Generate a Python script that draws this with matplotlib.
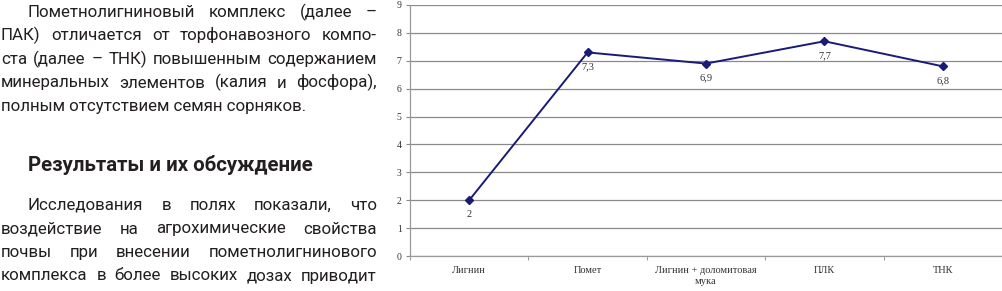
import numpy as np
import matplotlib
matplotlib.use('Agg')
import matplotlib.pyplot as plt

## chart data
categories = ['Лигнин', 'Помет', 'Лигнин + доломитовая\nмука', 'ПЛК', 'ТНК']
values = [2, 7.3, 6.9, 7.7, 6.8]
value_labels = ['2', '7,3', '6,9', '7,7', '6,8']
yticks = list(range(0, 10))

## article text beside the chart
para1 = ['Пометнолигниновый комплекс (далее –',
         'ПАК) отличается от торфонавозного компо-',
         'ста (далее – ТНК) повышенным содержанием',
         'минеральных элементов (калия и фосфора),',
         'полным отсутствием семян сорняков.']
heading = 'Результаты и их обсуждение'
para2 = ['Исследования в полях показали, что',
         'воздействие на агрохимические свойства',
         'почвы при внесении пометнолигнинового',
         'комплекса в более высоких дозах приводит']

W, H = 1003, 291
fig = plt.figure(figsize=(W/100, H/100), dpi=100)
renderer = fig.canvas.get_renderer()

txt_col = '#231f20'
body_kw = dict(family='Roboto', fontsize=12.2, color=txt_col)


def draw_line(text, y, x0, x1, justify, **kw):
    if not justify:
        fig.text(x0/W, 1-y/H, text, va='baseline', ha='left', **kw)
        return
    words = text.split(' ')
    objs = [fig.text(x0/W, 1-y/H, w, va='baseline', ha='left', **kw) for w in words]
    widths = [o.get_window_extent(renderer).width for o in objs]
    gap = (x1 - x0 - sum(widths)) / (len(words) - 1)
    xx = x0
    for o, w in zip(objs, widths):
        o.set_x(xx/W)
        xx += w + gap


base1 = [17, 40.5, 64, 87.5, 111]
for i, line in enumerate(para1):
    x0 = 28 if i == 0 else 1
    draw_line(line, base1[i], x0, 377, i < len(para1)-1, **body_kw)

fig.text(28/W, 1-171/H, heading, va='baseline', ha='left', family='Roboto',
         fontsize=14.7, fontweight='bold', color=txt_col)

base2 = [210, 233.5, 257, 280.5]
for i, line in enumerate(para2):
    x0 = 28 if i == 0 else 1
    draw_line(line, base2[i], x0, 377, True, **body_kw)

## chart
ax = fig.add_axes([410/W, 1-256/H, 592/W, 251/H])
x = np.arange(len(values))
ax.plot(x, values, color='#1a1a78', lw=1.4, marker='D', ms=4, zorder=3, clip_on=False)
for xi, v, lab in zip(x, values, value_labels):
    ax.annotate(lab, (xi, v), xytext=(0, -10.5), textcoords='offset points',
                ha='center', va='center', family='Liberation Serif', fontsize=7.5, color='#333333')

ax.set_xlim(-0.5, len(values)-0.5)
ax.set_ylim(0, 9)
ax.set_yticks(yticks)
ax.set_yticklabels([str(t) for t in yticks], family='Liberation Serif', fontsize=7, color='#333333')
ax.set_xticks(x)
ax.set_xticklabels(categories, family='Liberation Serif', fontsize=7.5, color='#333333', linespacing=1.3)
ax.set_xticks(np.arange(-0.5, len(values), 1), minor=True)
ax.tick_params(axis='x', which='major', length=0, pad=7)
ax.tick_params(axis='x', which='minor', length=3, color='#888888', direction='out')
ax.tick_params(axis='y', length=3, color='#888888', pad=3)
ax.grid(axis='y', color='#8a8a8a', lw=0.9)
ax.set_axisbelow(True)
for s in ['top', 'right']:
    ax.spines[s].set_visible(False)
for s in ['left', 'bottom']:
    ax.spines[s].set_color('#999999')
    ax.spines[s].set_linewidth(0.9)

fig.savefig('out.png', dpi=100)
